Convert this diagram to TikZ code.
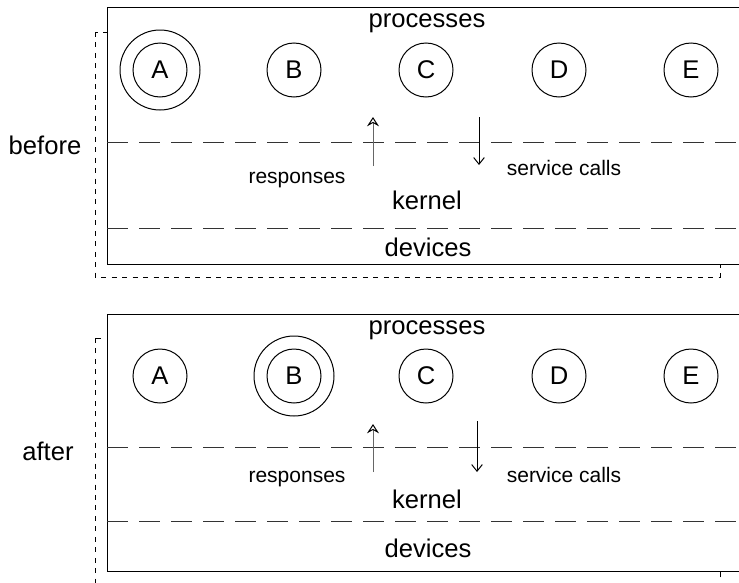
\documentclass[tikz,border=0pt]{standalone}
\usepackage{fontspec}
\setmainfont{Liberation Sans}
\usetikzlibrary{arrows.meta}

\tikzset{every picture/.style={line width=0.75pt}}
\newcommand{\bigtxt}{\fontsize{19.2}{23}\selectfont}
\newcommand{\smalltxt}{\fontsize{15.75}{19}\selectfont}

\begin{document}
\begin{tikzpicture}[x=0.75pt,y=0.75pt,yscale=-1,xscale=1,
  proc/.style={circle,draw,minimum size=40.5pt,inner sep=0pt,font=\bigtxt},
  ring/.style={circle,draw,minimum size=60pt,inner sep=0pt},
  frame/.style={draw,fill=white},
  shadowbox/.style={draw,dash pattern=on 3.75pt off 4.1pt},
  layerline/.style={draw=black!80,dash pattern=on 15.75pt off 8.25pt},
  lbl/.style={anchor=base,inner sep=0.75pt,font=\bigtxt},
  note/.style={anchor=base,inner sep=0.75pt,font=\smalltxt},
  resp/.style={draw=black!60,-{Stealth[open,black,length=7pt,width=9pt,inset=2.5pt]}},
  call/.style={draw,-{Straight Barb[length=5pt,width=8pt]}}]
%set diagram size: 739 x 582
\useasboundingbox (0,0) rectangle (739,582);
\clip (0,0) rectangle (739,582);

%%% before %%%
%Shape: Rectangle (shadow)
\draw [shadowbox] (95,32) rectangle (720,277);
%Shape: Rectangle (frame)
\draw [frame] (107,7) rectangle (760,264);
%Dashed Lines
\draw [layerline] (107,142) -- (760,142);
\draw [layerline] (107,228) -- (760,228);
%Processes
\node [proc] (A1) at (160,70) {A};
\node [ring] (A1ring) at (A1) {};
\node [proc] (B1) at (294,70) {B};
\node [proc] (C1) at (426,70) {C};
\node [proc] (D1) at (559,70) {D};
\node [proc] (E1) at (691,70) {E};
%Arrows
\coordinate (resp1a) at (373,166);
\coordinate (resp1b) at (373,117);
\coordinate (call1a) at (479,117);
\coordinate (call1b) at (479,165);
\draw [resp] (resp1a) -- (resp1b);
\draw [call] (call1a) -- (call1b);

% Text Node
\node [lbl] (procs1) at (427,27) {processes};
% Text Node
\node [lbl] (before) at (45,154) {before};
% Text Node
\node [note] (responses1) at (297,183) {responses};
% Text Node
\node [note] (calls1) at (564,175) {service calls};
% Text Node
\node [lbl] (kernel1) at (427,209) {kernel};
% Text Node
\node [lbl] (devices1) at (428,256) {devices};

%%% after %%%
%Shape: Rectangle (shadow)
\draw [shadowbox] (95,338) rectangle (720,590);
%Shape: Rectangle (frame)
\draw [frame] (107,314) rectangle (760,571);
%Dashed Lines
\draw [layerline] (107,447) -- (760,447);
\draw [layerline] (107,521) -- (760,521);
%Processes
\node [proc] (A2) at (160,376) {A};
\node [proc] (B2) at (294,376) {B};
\node [ring] (B2ring) at (B2) {};
\node [proc] (C2) at (426,376) {C};
\node [proc] (D2) at (559,376) {D};
\node [proc] (E2) at (691,376) {E};
%Arrows
\coordinate (resp2a) at (373,472);
\coordinate (resp2b) at (373,424);
\coordinate (call2a) at (477,421);
\coordinate (call2b) at (477,472);
\draw [resp] (resp2a) -- (resp2b);
\draw [call] (call2a) -- (call2b);

% Text Node
\node [lbl] (procs2) at (427,334) {processes};
% Text Node
\node [lbl] (after) at (48,460) {after};
% Text Node
\node [note] (responses2) at (297,482) {responses};
% Text Node
\node [note] (calls2) at (564,482) {service calls};
% Text Node
\node [lbl] (kernel2) at (427,508) {kernel};
% Text Node
\node [lbl] (devices2) at (428,557) {devices};

\end{tikzpicture}
\end{document}
